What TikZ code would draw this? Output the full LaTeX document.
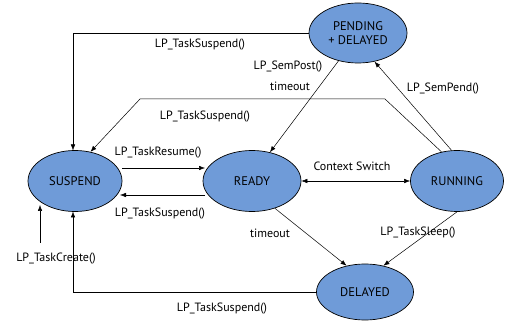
\documentclass[tikz,border=0pt]{standalone}
\usepackage{fontspec}
\setmainfont{PT Sans}
\usetikzlibrary{shapes.geometric,arrows.meta}
\definecolor{stfill}{HTML}{6F9BD8}
\tikzset{
  state/.style={ellipse, draw=black, line width=0.7pt, fill=stfill, inner sep=0pt, font=\fontsize{12.5}{14}\selectfont, align=center},
  conn/.style={line width=0.5pt, -{Latex[length=6pt,width=4.5pt]}},
  lbl/.style={font=\fontsize{12}{13}\selectfont, inner sep=0pt}
}
\begin{document}
\begin{tikzpicture}[x=1pt,y=-1pt]
\useasboundingbox (0,0) rectangle (509,323);
\node[state, minimum width=98pt, minimum height=60pt] (pend) at (358,33) {PENDING\\+ DELAYED};
\node[state, minimum width=94pt, minimum height=61pt] (susp) at (75,181) {SUSPEND};
\node[state, minimum width=98pt, minimum height=61pt] (ready) at (252,181) {READY};
\node[state, minimum width=93pt, minimum height=61pt] (run) at (457,181) {RUNNING};
\node[state, minimum width=97pt, minimum height=56pt] (del) at (365,292) {DELAYED};
\coordinate (create) at (40,243);
\coordinate (r1) at (385,99);
\coordinate (r2) at (140,99);
% pending -> suspend
\draw[conn] (pend.west) -- (73,33) -- (73,150.5);
\node[lbl] (l1) at (200,45) {LP\_TaskSuspend()};
% pending -> ready
\draw[conn] (pend.235) -- (ready.58);
\node[lbl] (l2) at (288,67) {LP\_SemPost()};
\node[lbl] (l3) at (290,86) {timeout};
% running -> suspend
\draw[conn] (run.118) -- (r1) -- (r2) -- (susp.62);
\node[lbl] (l4) at (205,117) {LP\_TaskSuspend()};
% running -> pending
\draw[conn] (run.100) -- (pend.300);
\node[lbl] (l5) at (443,89) {LP\_SemPend()};
% suspend <-> ready
\draw[conn] (122,168) -- (205,168);
\node[lbl] (l6) at (158,153) {LP\_TaskResume()};
\draw[conn] (205,195) -- (120,195);
\node[lbl] (l7) at (160,214) {LP\_TaskSuspend()};
% ready <-> running
\draw[line width=0.5pt, {Latex[length=6pt,width=4.5pt]}-{Latex[length=6pt,width=4.5pt]}] (ready.east) -- (run.west);
\node[lbl] (l8) at (352,166) {Context Switch};
% ready -> delayed
\draw[conn] (ready.-50) -- (del.125);
\node[lbl] (l9) at (270,233) {timeout};
% running -> delayed
\draw[conn] (run.-90) -- (del.55);
\node[lbl] (l10) at (418,233) {LP\_TaskSleep()};
% delayed -> suspend
\draw[conn] (del.west) -- (73,292) -- (73,211.5);
\node[lbl] (l11) at (222,309) {LP\_TaskSuspend()};
% create
\draw[conn] (create) -- (40,205);
\node[lbl] (l12) at (56,259) {LP\_TaskCreate()};
\end{tikzpicture}
\end{document}
